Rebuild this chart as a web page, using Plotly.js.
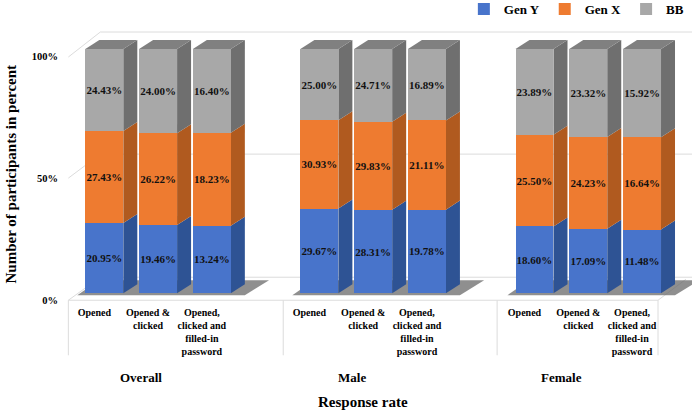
<!DOCTYPE html>
<html>
<head>
<meta charset="utf-8">
<script src="https://cdn.plot.ly/plotly-3.0.1.min.js"></script>
<style>html,body{margin:0;padding:0;background:#fff;}#chart{width:692px;height:411px;}</style>
</head>
<body>
<div id="chart"></div>
<script>
// ---- data ----
var groups = ['Overall', 'Male', 'Female'];
var responses = ['Opened', 'Opened & clicked', 'Opened, clicked and filled-in password'];
var tickLabels = ['Opened', 'Opened &amp;<br>clicked', 'Opened,<br>clicked and<br>filled-in<br>password'];
var seriesNames = ['Gen Y', 'Gen X', 'BB'];
var genY = [20.95, 19.46, 13.24, 29.67, 28.31, 19.78, 18.60, 17.09, 11.48];
var genX = [27.43, 26.22, 18.23, 30.93, 29.83, 21.11, 25.50, 24.23, 16.64];
var bb   = [24.43, 24.00, 16.40, 25.00, 24.71, 16.89, 23.89, 23.32, 15.92];
var yTickVals = [0, 50, 100];
var yTickText = ['0%', '50%', '100%'];

// ---- layout constants ----
var W = 692, H = 411;
var PXU = 53.8, X0PX = 104;          // x pixels per category unit, pixel of first bar
var XMIN = -0.75, XMAX = (W - X0PX) / PXU;
var PYU = 2.44, Y0PX = 293;          // y pixels per percent, pixel of 0%
var YMIN = -4, TOPPX = 25;
var YMAX = (Y0PX - TOPPX) / PYU;
var mL = X0PX + XMIN * PXU;
var plotBottom = Y0PX - YMIN * PYU;
var plotH = plotBottom - TOPPX;
function X(px) { return (px - X0PX) / PXU; }
function Yd(px) { return (Y0PX - px) / PYU; }
function Yp(px) { return (plotBottom - px) / plotH; }
function Xp(px) { return (px - mL) / (W - mL); }

var BW = 38 / PXU;     // bar width
var DX = 14 / PXU;     // depth x
var DY = 9 / PYU;      // depth y

var colors = {
  front: ['#4874CB', '#EE7B30', '#A8A8A8'],
  side:  ['#2E5394', '#B05A1F', '#6F6F6F'],
  top: '#808080'
};
var FONT = 'Liberation Serif, Times New Roman, serif';

var xs = [];
var catNames = [];
groups.forEach(function (g, gi) {
  responses.forEach(function (r, ri) {
    xs.push(gi * 4 + ri);
    catNames.push(g + ' – ' + r);
  });
});
var allTicks = [];
groups.forEach(function () { tickLabels.forEach(function (t) { allTicks.push(t); }); });

var series = [genY, genX, bb];
var traces = series.map(function (vals, si) {
  return {
    type: 'bar',
    name: seriesNames[si],
    x: xs,
    y: vals,
    width: BW,
    customdata: catNames,
    text: vals.map(function (v) { return v.toFixed(2) + '%'; }),
    texttemplate: '%{text}',
    textposition: 'inside',
    insidetextanchor: 'middle',
    textangle: 0,
    constraintext: 'none',
    textfont: { family: FONT, size: 11, color: '#111111', weight: 'bold' },
    marker: { color: colors.front[si], line: { width: 0 } },
    hovertemplate: '%{customdata}<br>' + seriesNames[si] + ': %{text}<extra></extra>'
  };
});

// ---- shapes: back wall, floor, 3D sides and tops computed from data ----
var shapes = [];
var grid = '#dcdcdc';
function line(x0, y0, x1, y1, xref, yref, color) {
  shapes.push({ type: 'line', x0: x0, y0: y0, x1: x1, y1: y1, xref: xref, yref: yref,
    line: { color: color || grid, width: 1 }, layer: 'below' });
}
// back wall gridlines (0, 50, 100) and left-wall diagonals
var frontPx = [300, 178, 57], backPx = [277, 154, 32];
for (var k = 0; k < 3; k++) {
  line(X(100), Yd(backPx[k]), XMAX, Yd(backPx[k]), 'x', 'y');
  line(X(68), Yd(frontPx[k]), X(100), Yd(backPx[k]), 'x', 'y');
}
// floor front edge
line(X(68), Yd(300), X(658), Yd(300), 'x', 'y');
line(X(658), Yd(300), X(686), Yd(279), 'x', 'y');
// category dividers in the label area
[68, 283, 497, 658].forEach(function (px) {
  line(X(px), Yp(300), X(px), Yp(355), 'x', 'paper');
});
// floor shadows per group
groups.forEach(function (g, gi) {
  var xl = gi * 4 - BW / 2, xr = gi * 4 + 2 + BW / 2;
  shapes.push({ type: 'path', xref: 'x', yref: 'y', layer: 'below',
    path: 'M' + (xl - 0.15) + ',' + Yd(295) + 'L' + (xr + DX) + ',' + Yd(295) +
          'L' + (xr + DX + 0.45) + ',' + Yd(280) + 'L' + (xl + 0.25) + ',' + Yd(280) + 'Z',
    fillcolor: 'rgba(105,105,105,0.75)', line: { width: 0 } });
});
// 3D side and top faces from the normalised stacks
xs.forEach(function (x, i) {
  var tot = genY[i] + genX[i] + bb[i];
  var cum = [0];
  series.forEach(function (s) { cum.push(cum[cum.length - 1] + s[i] / tot * 100); });
  var xr = x + BW / 2, xl = x - BW / 2;
  for (var s = 0; s < 3; s++) {
    shapes.push({ type: 'path', xref: 'x', yref: 'y', layer: 'below',
      path: 'M' + xr + ',' + cum[s] + 'L' + (xr + DX) + ',' + (cum[s] + DY) +
            'L' + (xr + DX) + ',' + (cum[s + 1] + DY) + 'L' + xr + ',' + cum[s + 1] + 'Z',
      fillcolor: colors.side[s], line: { width: 0 } });
  }
  shapes.push({ type: 'path', xref: 'x', yref: 'y', layer: 'below',
    path: 'M' + xl + ',' + cum[3] + 'L' + (xl + DX) + ',' + (cum[3] + DY) +
          'L' + (xr + DX) + ',' + (cum[3] + DY) + 'L' + xr + ',' + cum[3] + 'Z',
    fillcolor: colors.top, line: { width: 0 } });
});

// ---- annotations: group labels and axis titles ----
var annotations = groups.map(function (g, gi) {
  return { text: g, xref: 'x', yref: 'paper', x: gi * 3.91 + 0.69, y: Yp(377),
    showarrow: false, xanchor: 'center', yanchor: 'middle',
    font: { family: FONT, size: 13, color: '#000', weight: 'bold' } };
});
annotations.push({ text: 'Response rate', xref: 'x', yref: 'paper', x: X(363), y: Yp(402),
  showarrow: false, xanchor: 'center', yanchor: 'middle',
  font: { family: FONT, size: 15, color: '#000', weight: 'bold' } });
annotations.push({ text: 'Number of participants in percent', xref: 'paper', yref: 'paper',
  x: Xp(11), y: Yp(174), textangle: -90, showarrow: false, xanchor: 'center', yanchor: 'middle',
  font: { family: FONT, size: 15, color: '#000', weight: 'bold' } });

var layout = {
  width: W, height: H,
  margin: { l: mL, r: 0, t: TOPPX, b: H - plotBottom, pad: 0, autoexpand: false },
  paper_bgcolor: '#ffffff', plot_bgcolor: 'rgba(0,0,0,0)',
  barmode: 'stack', barnorm: 'percent',
  showlegend: true,
  legend: { orientation: 'h', x: 0.995, xanchor: 'right', y: Yp(-6), yanchor: 'top',
    traceorder: 'normal', itemwidth: 30, bgcolor: 'rgba(0,0,0,0)',
    font: { family: FONT, size: 13, color: '#000', weight: 'bold' } },
  xaxis: { type: 'linear', range: [XMIN, XMAX], tickmode: 'array', tickvals: xs, ticktext: allTicks,
    showgrid: false, zeroline: false, showline: false, ticks: '', ticklabelshift: -10,
    ticklabelstandoff: 2, fixedrange: true,
    tickfont: { family: FONT, size: 10, color: '#000', weight: 'bold' } },
  yaxis: { range: [YMIN, YMAX], tickmode: 'array', tickvals: yTickVals, ticktext: yTickText,
    showgrid: false, zeroline: false, showline: false, ticks: '', ticklabelshift: 7,
    ticklabelstandoff: 5, fixedrange: true,
    tickfont: { family: FONT, size: 10.5, color: '#000', weight: 'bold' } },
  shapes: shapes,
  annotations: annotations
};

Plotly.newPlot('chart', traces, layout, { displayModeBar: false, staticPlot: true });
</script>
</body>
</html>
